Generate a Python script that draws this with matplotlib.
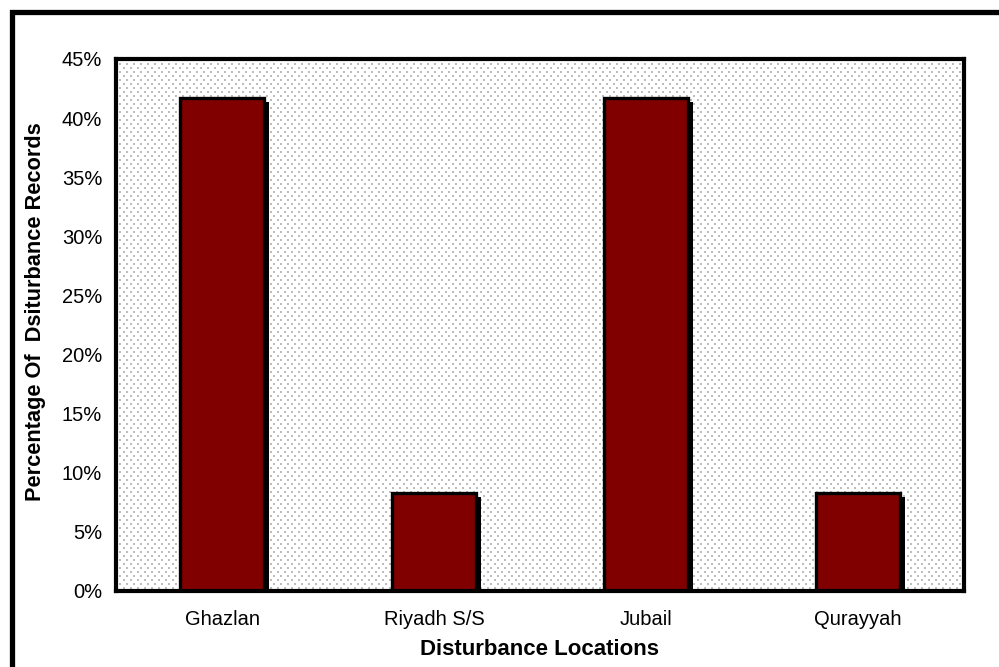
import numpy as np
import matplotlib
matplotlib.use('Agg')
import matplotlib.pyplot as plt
from matplotlib.patches import Rectangle
from matplotlib.transforms import ScaledTranslation
from matplotlib.ticker import PercentFormatter

# Datos
locations = ['Ghazlan', 'Riyadh S/S', 'Jubail', 'Qurayyah']
percentages = [41.67, 8.33, 41.67, 8.33]
y_ticks = [0, 5, 10, 15, 20, 25, 30, 35, 40, 45]

plt.rcParams['font.family'] = ['Liberation Sans', 'DejaVu Sans']

fig = plt.figure(figsize=(9.99, 6.67), dpi=100)
ax = fig.add_axes([116 / 999, 76 / 667, 848 / 999, 532 / 667])

# marco exterior
fig.patches.append(Rectangle((11.5 / 999, -0.05), 1.1, (667 - 11.5) / 667 + 0.05,
                             transform=fig.transFigure, fill=False,
                             edgecolor='black', linewidth=3.8, zorder=0))

# fondo punteado (textura de puntos escalonados)
h_px, w_px = 532, 848
tile = np.ones((8, 7))
tile[0:2, 0:2] = 0.74
tile[4:6, 3:5] = 0.74
texture = np.tile(tile, (h_px // 8 + 1, w_px // 7 + 1))[:h_px, :w_px]
ax.imshow(texture, cmap='gray', vmin=0, vmax=1, extent=(0, 1, 0, 1),
          transform=ax.transAxes, interpolation='nearest', aspect='auto', zorder=0)

x = np.arange(len(locations))
shadow = ax.transData + ScaledTranslation(5 / 100, -4 / 100, fig.dpi_scale_trans)
ax.bar(x, percentages, width=0.40, color='black', transform=shadow, zorder=2)
ax.bar(x, percentages, width=0.40, color='#800000', edgecolor='black',
       linewidth=2.4, zorder=3)

ax.set_xlim(-0.5, 3.5)
ax.set_ylim(0, 45)
ax.set_yticks(y_ticks)
ax.yaxis.set_major_formatter(PercentFormatter(decimals=0))
ax.set_xticks(x)
ax.set_xticklabels(locations)
ax.tick_params(axis='both', length=0, labelsize=14.5)
ax.tick_params(axis='y', pad=10)
ax.tick_params(axis='x', pad=14)

for s in ax.spines.values():
    s.set_linewidth(3)
    s.set_zorder(5)

ax.set_xlabel('Disturbance Locations', fontsize=16, fontweight='bold', labelpad=7)
ax.set_ylabel('Percentage Of  Dsiturbance Records', fontsize=15.7, fontweight='bold')
ax.yaxis.set_label_coords(-0.082, 0.526)

fig.savefig('out.png', dpi=100)
plt.close(fig)
